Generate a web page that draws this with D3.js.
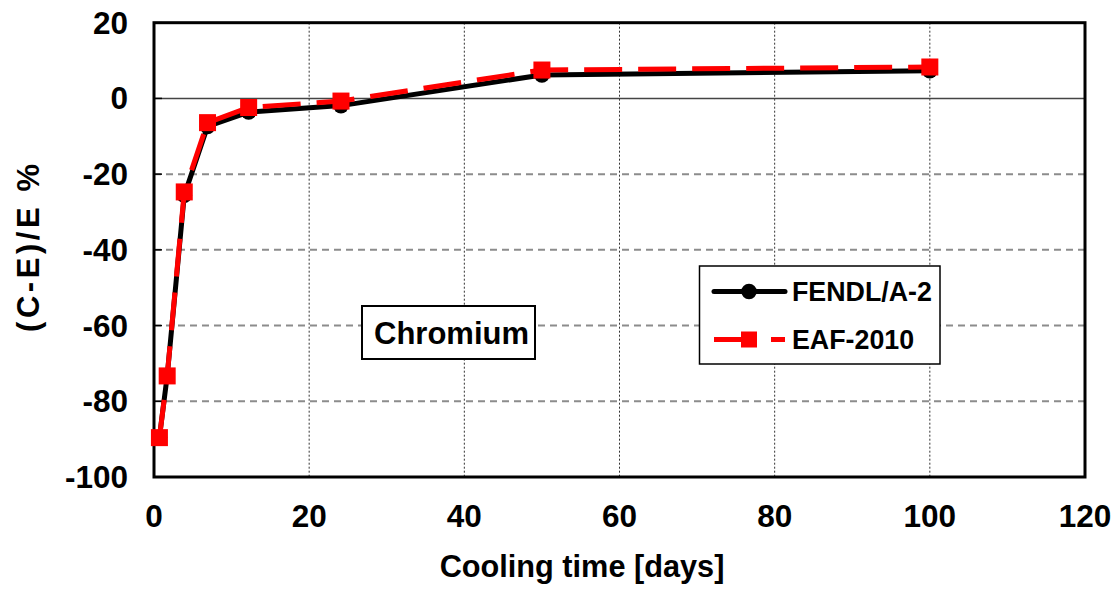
<!DOCTYPE html>
<html>
<head>
<meta charset="utf-8">
<script src="https://cdn.jsdelivr.net/npm/d3@7"></script>
<style>
  html, body { margin: 0; padding: 0; background: #fff; }
  svg { display: block; }
  text { font-family: "Liberation Sans", Arial, sans-serif; font-weight: bold; fill: #000; }
</style>
</head>
<body>
<svg id="chart" width="1119" height="591"></svg>
<script>
// ---- data ----
const coolingDays = [0.7, 1.7, 3.9, 6.9, 12.2, 24.1, 50, 100];
const fendlValues = [-89.5, -73.3, -25.6, -7.4, -3.6, -1.9, 6.2, 7.3];
const eafValues   = [-89.6, -73.3, -24.7, -6.4, -2.4, -0.7, 7.5, 8.3];
const xTicks = [0, 20, 40, 60, 80, 100, 120];
const yTicks = [20, 0, -20, -40, -60, -80, -100];
const seriesNames = ["FENDL/A-2", "EAF-2010"];
const materialLabel = "Chromium";
const xTitle = "Cooling time [days]";
const yTitle = "(C-E)/E %";

// ---- layout ----
const svg = d3.select("#chart");
const L = 154, R = 1085, T = 22.7, B = 477;
const x = d3.scaleLinear().domain([0, 120]).range([L, R]);
const y = d3.scaleLinear().domain([-100, 20]).range([B, T]);

// horizontal gridlines (dashed gray)
svg.append("g").selectAll("line")
  .data(yTicks.filter(v => v !== 0 && v !== 20 && v !== -100))
  .join("line")
  .attr("x1", L).attr("x2", R)
  .attr("y1", d => y(d)).attr("y2", d => y(d))
  .attr("stroke", "#8c8c8c").attr("stroke-width", 2)
  .attr("stroke-dasharray", "7,5");

// vertical gridlines (dotted)
svg.append("g").selectAll("line")
  .data(xTicks.filter(v => v !== 0 && v !== 120))
  .join("line")
  .attr("x1", d => x(d)).attr("x2", d => x(d))
  .attr("y1", T).attr("y2", B)
  .attr("stroke", "#333").attr("stroke-width", 1)
  .attr("stroke-dasharray", "2,2");

// zero line
svg.append("line")
  .attr("x1", L).attr("x2", R).attr("y1", y(0)).attr("y2", y(0))
  .attr("stroke", "#444").attr("stroke-width", 1.5);

// inward y ticks
svg.append("g").selectAll("line")
  .data(yTicks)
  .join("line")
  .attr("x1", L).attr("x2", L + 8)
  .attr("y1", d => y(d)).attr("y2", d => y(d))
  .attr("stroke", "#000").attr("stroke-width", 1.5);

// frame
svg.append("rect")
  .attr("x", L).attr("y", T).attr("width", R - L).attr("height", B - T)
  .attr("fill", "none").attr("stroke", "#000").attr("stroke-width", 3);

// tick labels
svg.append("g").selectAll("text")
  .data(yTicks)
  .join("text")
  .attr("x", 128).attr("y", d => y(d) + 11)
  .attr("text-anchor", "end")
  .style("font-size", "31.5px")
  .text(d => d);

svg.append("g").selectAll("text")
  .data(xTicks)
  .join("text")
  .attr("x", d => x(d)).attr("y", 527)
  .attr("text-anchor", "middle")
  .style("font-size", "31.5px")
  .text(d => d);

// axis titles
svg.append("text")
  .attr("x", 582).attr("y", 577)
  .attr("text-anchor", "middle")
  .style("font-size", "30.7px")
  .text(xTitle);

svg.append("text")
  .attr("transform", `translate(39, 248) rotate(-90)`)
  .attr("text-anchor", "middle")
  .attr("textLength", 168).attr("lengthAdjust", "spacing")
  .style("font-size", "31px")
  .text(yTitle);

// series
const fendlData = coolingDays.map((d, i) => [d, fendlValues[i]]);
const eafData = coolingDays.map((d, i) => [d, eafValues[i]]);
const line = d3.line().x(d => x(d[0])).y(d => y(d[1]));

svg.append("path").datum(fendlData)
  .attr("d", line).attr("fill", "none")
  .attr("stroke", "#000").attr("stroke-width", 5).attr("stroke-linejoin", "round");
svg.append("g").selectAll("circle").data(fendlData).join("circle")
  .attr("cx", d => x(d[0])).attr("cy", d => y(d[1])).attr("r", 7.8)
  .attr("fill", "#000");

svg.append("path").datum(eafData)
  .attr("d", line).attr("fill", "none")
  .attr("stroke", "#ff0000").attr("stroke-width", 5)
  .attr("stroke-dasharray", "38,16").attr("stroke-linejoin", "round");
const sq = 17;
svg.append("g").selectAll("rect").data(eafData).join("rect")
  .attr("x", d => x(d[0]) - sq / 2).attr("y", d => y(d[1]) - sq / 2)
  .attr("width", sq).attr("height", sq)
  .attr("fill", "#ff0000");

// legend
const lg = svg.append("g");
lg.append("rect").attr("x", 699.5).attr("y", 266).attr("width", 240.5).attr("height", 98)
  .attr("fill", "#fff").attr("stroke", "#000").attr("stroke-width", 1.5);
const rows = [291.5, 339.5];
// FENDL
lg.append("line").attr("x1", 714).attr("x2", 785).attr("y1", rows[0]).attr("y2", rows[0])
  .attr("stroke", "#000").attr("stroke-width", 5).attr("stroke-linecap", "round");
lg.append("circle").attr("cx", 749).attr("cy", rows[0]).attr("r", 7.8).attr("fill", "#000");
// EAF
lg.append("line").attr("x1", 714).attr("x2", 785).attr("y1", rows[1]).attr("y2", rows[1])
  .attr("stroke", "#ff0000").attr("stroke-width", 5)
  .attr("stroke-dasharray", "42,15");
lg.append("rect").attr("x", 749 - 8).attr("y", rows[1] - 8).attr("width", 16).attr("height", 16)
  .attr("fill", "#ff0000");
lg.selectAll("text.lt").data(seriesNames).join("text")
  .attr("class", "lt")
  .attr("x", 792).attr("y", (d, i) => rows[i] + 9.5)
  .style("font-size", "26.8px")
  .text(d => d);

// material label box
svg.append("rect").attr("x", 362).attr("y", 306).attr("width", 173).attr("height", 53)
  .attr("fill", "#fff").attr("stroke", "#000").attr("stroke-width", 2);
svg.append("text").attr("x", 451.5).attr("y", 344)
  .attr("text-anchor", "middle")
  .style("font-size", "31px")
  .text(materialLabel);
</script>
</body>
</html>
